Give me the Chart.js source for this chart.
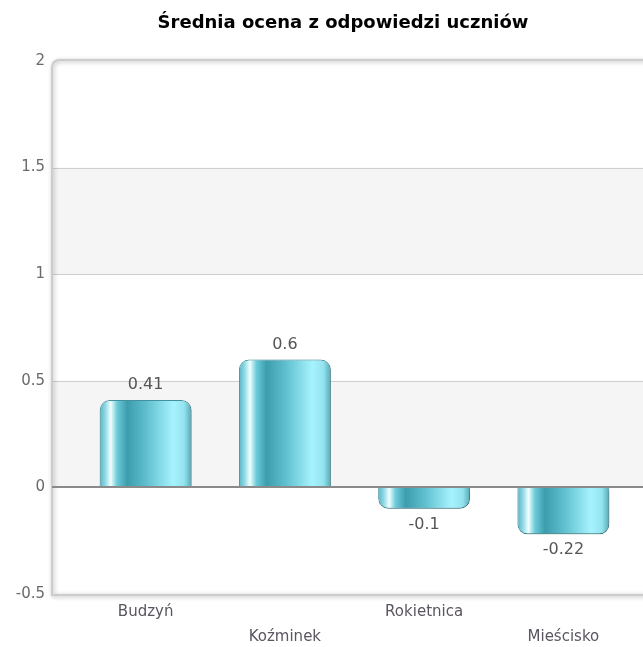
<!DOCTYPE html>
<html>
<head>
<meta charset="utf-8">
<script src="https://cdn.jsdelivr.net/npm/chart.js@4.4.1/dist/chart.umd.min.js"></script>
<style>
    html, body { margin: 0; padding: 0; background: #ffffff; }
    #wrap { width: 643px; height: 647px; }
</style>
</head>
<body>
<div id="wrap"><canvas id="avgChart" width="643" height="647"></canvas></div>
<script>
const chartTitle = 'Średnia ocena z odpowiedzi uczniów';
const categories = ['Budzyń', 'Koźminek', 'Rokietnica', 'Mieścisko'];
const averages = [0.41, 0.6, -0.1, -0.22];
const yTicks = [-0.5, 0, 0.5, 1, 1.5, 2];
const shadedBands = [[1, 1.5], [0, 0.5]];

const FONT = '"DejaVu Sans", Verdana, sans-serif';
const FRAME_LEFT = 52;
let avgChartInstance = null;

function barGradient(context) {
    const chart = context.chart;
    const { ctx, chartArea, scales } = chart;
    if (!chartArea || !scales.x) return '#5bbccb';
    const center = scales.x.getPixelForValue(context.dataIndex);
    const half = (chartArea.right - chartArea.left) / categories.length * 0.66 / 2;
    const g = ctx.createLinearGradient(center - half, 0, center + half, 0);
    g.addColorStop(0, '#58b4c2');
    g.addColorStop(0.06, '#8fd9e4');
    g.addColorStop(0.12, '#f0ffff');
    g.addColorStop(0.19, '#6ccbd9');
    g.addColorStop(0.3, '#3c9dae');
    g.addColorStop(0.5, '#5ebecd');
    g.addColorStop(0.8, '#a6f3fe');
    g.addColorStop(0.92, '#93e3ef');
    g.addColorStop(1, '#56a9b7');
    return g;
}

// plot frame, bands, grid lines, zero line, value labels and title
const framePlugin = {
    id: 'framePlugin',
    beforeDraw(chart) {
        const { ctx, scales } = chart;
        const y = scales.y;
        const right = chart.width + 20;
        const top = y.getPixelForValue(2) - 1;
        const bottom = y.getPixelForValue(-0.5) + 1;

        ctx.save();
        ctx.fillStyle = '#ffffff';
        ctx.fillRect(FRAME_LEFT, top, right - FRAME_LEFT, bottom - top);
        ctx.fillStyle = '#f5f5f5';
        shadedBands.forEach(b => {
            const y1 = y.getPixelForValue(b[1]);
            const y2 = y.getPixelForValue(b[0]);
            ctx.fillRect(FRAME_LEFT, y1, right - FRAME_LEFT, y2 - y1);
        });

        ctx.strokeStyle = '#cfcfcf';
        ctx.lineWidth = 1;
        yTicks.forEach(v => {
            if (v === 2 || v === -0.5 || v === 0) return;
            const py = Math.round(y.getPixelForValue(v)) + 0.5;
            ctx.beginPath();
            ctx.moveTo(FRAME_LEFT, py);
            ctx.lineTo(right, py);
            ctx.stroke();
        });

        // frame with a soft shadow
        const r = 8;
        ctx.shadowColor = 'rgba(0,0,0,0.3)';
        ctx.shadowBlur = 4;
        ctx.shadowOffsetX = 1;
        ctx.shadowOffsetY = 1;
        ctx.strokeStyle = '#cccccc';
        ctx.lineWidth = 2;
        ctx.beginPath();
        ctx.moveTo(right, bottom);
        ctx.lineTo(FRAME_LEFT, bottom);
        ctx.lineTo(FRAME_LEFT, top + r);
        ctx.quadraticCurveTo(FRAME_LEFT, top, FRAME_LEFT + r, top);
        ctx.lineTo(right, top);
        ctx.stroke();
        ctx.restore();

        // title
        ctx.save();
        ctx.fillStyle = '#000000';
        ctx.font = 'bold 18px ' + FONT;
        ctx.textAlign = 'center';
        ctx.textBaseline = 'middle';
        ctx.fillText(chartTitle, 343, 23);
        ctx.restore();
    },
    beforeDatasetsDraw(chart) {
        const ctx = chart.ctx;
        ctx.save();
        ctx.shadowColor = 'rgba(0,0,0,0.28)';
        ctx.shadowBlur = 4;
        ctx.shadowOffsetX = 2;
        ctx.shadowOffsetY = 2;
    },
    afterDatasetsDraw(chart) {
        const { ctx, scales } = chart;
        ctx.restore();

        ctx.save();
        const zy = Math.round(scales.y.getPixelForValue(0));
        ctx.strokeStyle = '#8a8a8a';
        ctx.lineWidth = 2;
        ctx.beginPath();
        ctx.moveTo(FRAME_LEFT, zy);
        ctx.lineTo(chart.width + 20, zy);
        ctx.stroke();

        ctx.fillStyle = '#555555';
        ctx.font = '16px ' + FONT;
        ctx.textAlign = 'center';
        ctx.textBaseline = 'middle';
        const meta = chart.getDatasetMeta(0);
        meta.data.forEach((bar, i) => {
            const v = averages[i];
            const ty = v >= 0 ? bar.y - 15 : bar.y + 16;
            ctx.fillText(String(v), bar.x, ty);
        });
        ctx.restore();
    }
};

function renderChart() {
    const ctx = document.getElementById('avgChart').getContext('2d');
    if (avgChartInstance) avgChartInstance.destroy();

    avgChartInstance = new Chart(ctx, {
        type: 'bar',
        data: {
            labels: categories,
            datasets: [{
                data: averages,
                backgroundColor: barGradient,
                borderColor: '#4596a4',
                borderWidth: 1,
                borderRadius: 10,
                borderSkipped: 'start',
                barPercentage: 0.66,
                categoryPercentage: 1
            }]
        },
        options: {
            responsive: false,
            animation: false,
            devicePixelRatio: 1,
            layout: { padding: { top: 61, right: 10, left: 0, bottom: 0 } },
            plugins: {
                legend: { display: false },
                title: { display: false },
                tooltip: { enabled: false }
            },
            scales: {
                x: {
                    grid: { display: false, drawTicks: false },
                    border: { display: false },
                    ticks: {
                        autoSkip: false,
                        maxRotation: 0,
                        padding: 6,
                        color: '#5a5560',
                        font: { family: FONT, size: 15, lineHeight: '25px' },
                        callback: function (value, index) {
                            const name = categories[index];
                            return index % 2 === 1 ? ['', name] : name;
                        }
                    },
                    afterFit: scale => { scale.height = 53; }
                },
                y: {
                    min: -0.5,
                    max: 2,
                    grid: { display: false, drawTicks: false },
                    border: { display: false },
                    afterBuildTicks: scale => {
                        scale.ticks = yTicks.map(v => ({ value: v }));
                    },
                    ticks: {
                        padding: 31,
                        color: '#6a6a6a',
                        font: { family: FONT, size: 15 },
                        callback: value => String(value)
                    },
                    afterFit: scale => { scale.width = 76; }
                }
            }
        },
        plugins: [framePlugin]
    });
}

renderChart();
</script>
</body>
</html>
